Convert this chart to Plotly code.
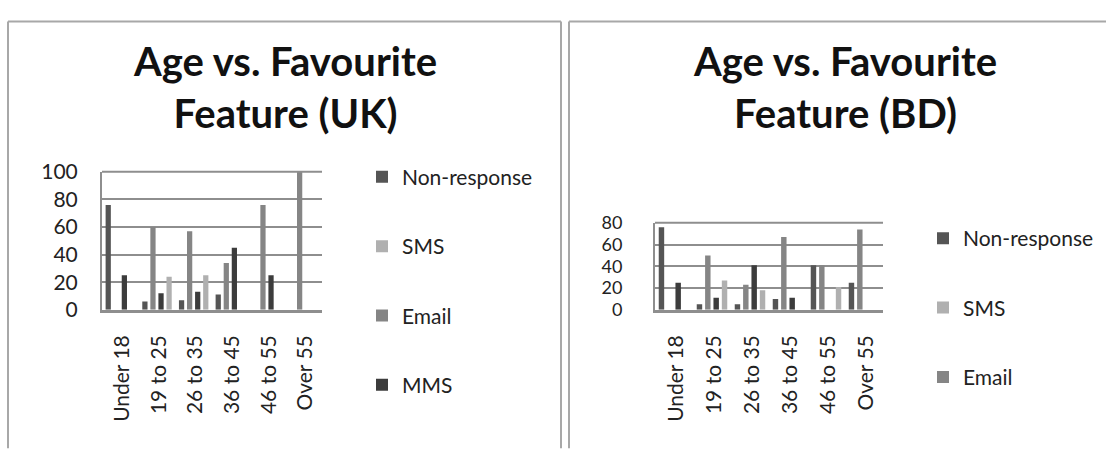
import plotly.graph_objects as go

categories = ["Under 18", "19 to 25", "26 to 35", "36 to 45", "46 to 55", "Over 55"]

# UK values (percent)
uk_non_response = [76, 6, 7, 11, 0, 0]
uk_email = [0, 60, 57, 34, 76, 100]
uk_mms = [25, 12, 13, 45, 25, 0]
uk_sms = [0, 24, 25, 0, 0, 0]

# BD values (percent)
bd_non_response = [76, 5, 5, 10, 41, 25]
bd_email = [0, 50, 23, 67, 41, 74]
bd_mms = [25, 11, 41, 11, 0, 0]
bd_sms = [0, 27, 18, 0, 21, 0]

uk_yticks = [0, 20, 40, 60, 80, 100]
bd_yticks = [0, 20, 40, 60, 80]

colors = {"Non-response": "#555555", "SMS": "#b0b0b0", "Email": "#858585", "MMS": "#3c3c3c"}
rank = {"Non-response": 1, "SMS": 2, "Email": 3, "MMS": 4}

W, H = 1112, 455
FONT = "Lato"

fig = go.Figure()

uk_series = [("Non-response", uk_non_response), ("Email", uk_email), ("MMS", uk_mms), ("SMS", uk_sms)]
bd_series = [("Non-response", bd_non_response), ("Email", bd_email), ("MMS", bd_mms), ("SMS", bd_sms)]

for name, vals in uk_series:
    fig.add_trace(go.Bar(x=categories, y=vals, name=name, marker_color=colors[name],
                         marker_line_width=0, xaxis="x", yaxis="y", legend="legend",
                         legendgroup="uk" + name, legendrank=rank[name]))
for name, vals in bd_series:
    fig.add_trace(go.Bar(x=categories, y=vals, name=name, marker_color=colors[name],
                         marker_line_width=0, xaxis="x2", yaxis="y2", legend="legend2",
                         legendgroup="bd" + name, legendrank=rank[name],
                         showlegend=(name != "MMS")))

def px_x(p):
    return p / W

def px_y(p):
    return 1 - p / H

grid_col = "#8e8e8e"
axis_common = dict(showgrid=True, gridcolor=grid_col, gridwidth=2, zeroline=False,
                   showline=True, linecolor=grid_col, linewidth=2, mirror=False, ticks="")
xaxis_common = dict(showgrid=False, showline=True, linecolor=grid_col, linewidth=3,
                    tickangle=-90, tickfont=dict(family=FONT, size=21, color="#222222"),
                    ticks="", ticklabelstandoff=14, ticklabelshift=2)

fig.update_layout(
    width=W, height=H, autosize=False,
    margin=dict(l=0, r=0, t=0, b=0, pad=0),
    paper_bgcolor="white", plot_bgcolor="white",
    barmode="group", bargap=0.12, bargroupgap=0.35,
    xaxis=dict(domain=[px_x(102), px_x(322)], anchor="y", **xaxis_common),
    yaxis=dict(domain=[px_y(313), px_y(167)], anchor="x", range=[0, 100],
               tickvals=uk_yticks, ticklabelstandoff=18,
               tickfont=dict(family=FONT, size=21, color="#222222"), **axis_common),
    xaxis2=dict(domain=[px_x(655), px_x(883)], anchor="y2", **xaxis_common),
    yaxis2=dict(domain=[px_y(313), px_y(221)], anchor="x2", range=[0, 80],
                tickvals=bd_yticks, ticklabelstandoff=27,
                tickfont=dict(family=FONT, size=18, color="#222222"), **axis_common),
    legend=dict(x=px_x(362), y=px_y(151), xanchor="left", yanchor="top",
                traceorder="grouped", tracegroupgap=39,
                font=dict(family=FONT, size=21, color="#222222"),
                itemwidth=30, bgcolor="rgba(0,0,0,0)"),
    legend2=dict(x=px_x(923), y=px_y(216), xanchor="left", yanchor="top",
                 traceorder="grouped", tracegroupgap=39,
                 font=dict(family=FONT, size=21, color="#222222"),
                 itemwidth=30, bgcolor="rgba(0,0,0,0)"),
    showlegend=True,
)

title_font = dict(family=FONT, size=40, color="#111111", weight="bold")
fig.add_annotation(text="Age vs. Favourite<br>Feature (UK)", xref="paper", yref="paper",
                   x=px_x(285), y=px_y(22), xanchor="center", yanchor="top",
                   showarrow=False, font=title_font)
fig.add_annotation(text="Age vs. Favourite<br>Feature (BD)", xref="paper", yref="paper",
                   x=px_x(845), y=px_y(22), xanchor="center", yanchor="top",
                   showarrow=False, font=title_font)

border = dict(color="#a8a8a8", width=2)
# left panel frame
fig.add_shape(type="line", xref="paper", yref="paper", x0=px_x(8), x1=px_x(561), y0=px_y(8), y1=px_y(8), line=border)
fig.add_shape(type="line", xref="paper", yref="paper", x0=px_x(8), x1=px_x(8), y0=px_y(8), y1=-0.01, line=border)
fig.add_shape(type="line", xref="paper", yref="paper", x0=px_x(561), x1=px_x(561), y0=px_y(8), y1=-0.01, line=border)
# right panel frame
fig.add_shape(type="line", xref="paper", yref="paper", x0=px_x(569), x1=px_x(1106), y0=px_y(8), y1=px_y(8), line=border)
fig.add_shape(type="line", xref="paper", yref="paper", x0=px_x(569), x1=px_x(569), y0=px_y(8), y1=-0.01, line=border)
# top edge of plot areas
fig.add_shape(type="line", xref="paper", yref="paper", x0=px_x(102), x1=px_x(322), y0=px_y(167), y1=px_y(167), line=dict(color=grid_col, width=2))
fig.add_shape(type="line", xref="paper", yref="paper", x0=px_x(655), x1=px_x(883), y0=px_y(221), y1=px_y(221), line=dict(color=grid_col, width=2))

post = (
    "document.documentElement.style.margin='0px';"
    "document.body.style.margin='0px';"
    "document.body.style.overflow='hidden';"
)

fig.write_html("out.html", config={"displayModeBar": False, "responsive": False},
               post_script=post)
